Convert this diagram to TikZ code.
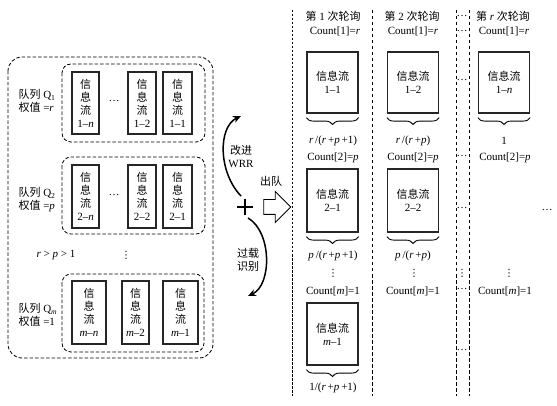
\documentclass[tikz,border=0pt]{standalone}
\usepackage{fontspec}
\setmainfont{Liberation Serif}
\newfontfamily\cjk{Noto Sans CJK SC}
\newfontfamily\sym{DejaVu Sans}
\usepackage{tikz}
\usetikzlibrary{shapes.arrows,positioning,calc,decorations.pathreplacing,arrows.meta}
\newcommand{\zh}[1]{{\cjk #1}}
\newcommand{\vdot}{{\sym\fontsize{10}{10}\selectfont ⋮}}

\begin{document}
\begin{tikzpicture}[
    x=1pt, y=-1pt,
    every node/.style={font=\fontsize{11}{13}\selectfont},
    grp/.style={draw, dash pattern=on 3.5pt off 2pt, rounded corners=9pt, line width=0.8pt},
    colsep/.style={draw, dash pattern=on 3.5pt off 2.5pt, line width=0.8pt},
    vflow/.style={rectangle, draw=black!85, line width=1.2pt, align=center, minimum height=62pt, inner sep=0pt},
    hflow/.style={rectangle, draw=black!85, line width=1.2pt, align=center, minimum width=51pt, minimum height=61pt, inner sep=0pt},
    brc/.style={decorate, decoration={brace, mirror, amplitude=7pt}, line width=0.9pt},
    turn/.style={line width=1.5pt, -{Stealth[length=8pt, width=7pt]}},
]
    \useasboundingbox (0,0) rectangle (557,406);

    % Queues
    \draw[grp, rounded corners=14pt] (8,57) rectangle (213,358);

    % Queue Q1
    \draw[grp] (62,64) rectangle (205,142);
    \node[vflow, minimum width=27pt] (q1n) at (85.5,103) {\zh{信}\\\zh{息}\\\zh{流}\\1--\textit{n}};
    \node[vflow, minimum width=28pt] (q12) at (142,103) {\zh{信}\\\zh{息}\\\zh{流}\\1--2};
    \node[vflow, minimum width=29pt] (q11) at (177.5,103) {\zh{信}\\\zh{息}\\\zh{流}\\1--1};
    \node (q1dots) at (114,101) {\dots};
    \node[align=left, anchor=west] (q1lab) at (15,101) {\zh{队列} Q\textsubscript{1}\\\zh{权值} =\textit{r}};

    % Queue Q2
    \draw[grp] (62,157) rectangle (205,234);
    \node[vflow, minimum width=27pt, minimum height=63pt] (q2n) at (85.5,196.5) {\zh{信}\\\zh{息}\\\zh{流}\\2--\textit{n}};
    \node[vflow, minimum width=28pt, minimum height=63pt] (q22) at (142,196.5) {\zh{信}\\\zh{息}\\\zh{流}\\2--2};
    \node[vflow, minimum width=29pt, minimum height=63pt] (q21) at (177.5,196.5) {\zh{信}\\\zh{息}\\\zh{流}\\2--1};
    \node (q2dots) at (114,195) {\dots};
    \node[align=left, anchor=west] (q2lab) at (15,200) {\zh{队列} Q\textsubscript{2}\\\zh{权值} =\textit{p}};

    \node (order) at (56,255) {\textit{r} > \textit{p} > 1};
    \node (qvdots) at (126,255) {\vdot};

    % Queue Qm
    \draw[grp] (62,274) rectangle (204,352);
    \node[vflow, minimum width=34pt, minimum height=63pt] (qmn) at (89,312.5) {\zh{信}\\\zh{息}\\\zh{流}\\\textit{m}--\textit{n}};
    \node[vflow, minimum width=27pt, minimum height=63pt] (qm2) at (135.5,312.5) {\zh{信}\\\zh{息}\\\zh{流}\\\textit{m}--2};
    \node[vflow, minimum width=35pt, minimum height=63pt] (qm1) at (180.5,312.5) {\zh{信}\\\zh{息}\\\zh{流}\\\textit{m}--1};
    \node[align=left, anchor=west] (qmlab) at (15,315) {\zh{队列} Q\textsubscript{\textit{m}}\\\zh{权值} =1};

    % Scheduler
    \coordinate (plus) at (245,207);
    \draw[line width=1.8pt] ($(plus)+(-8,0)$) -- ($(plus)+(8,0)$);
    \draw[line width=1.8pt] ($(plus)+(0,-8)$) -- ($(plus)+(0,8)$);
    \draw[turn] ($(plus)+(-4,-11)$) .. controls ($(plus)+(-27,-35)$) and ($(plus)+(-27,-80)$) .. ($(plus)+(-4,-91)$);
    \draw[turn] ($(plus)+(3,11)$) .. controls ($(plus)+(27,25)$) and ($(plus)+(27,78)$) .. ($(plus)+(3,89)$);
    \node[align=center] (wrr) at (241,156) {\zh{改进}\\WRR};
    \node[align=center] (ovl) at (248,260) {\zh{过载}\\\zh{识别}};
    \node[single arrow, draw, line width=0.9pt, minimum height=27pt, inner sep=7pt, single arrow head extend=8pt] (outq) at (273.5,207) {};
    \node (outlab) at (271,181) {\zh{出队}};

    % Polling rounds
    \draw[colsep, dash pattern=on 2.5pt off 1.5pt] (292,10) -- (292,396);
    \draw[colsep] (372,10) -- (372,396);
    \draw[colsep] (456,10) -- (456,396);
    \draw[colsep] (469,10) -- (469,396);

    % Round 1
    \node (t1) at (333,16) {\zh{第} 1 \zh{次轮询}};
    \node (c1a) at (335,31) {Count[1]=\textit{r}};
    \node[hflow] (f11) at (332.5,82.5) {\zh{信息流}\\1--1};
    \draw[brc] ($(f11.south west)+(0,-4pt)$) -- ($(f11.south east)+(0,-4pt)$);
    \node (w11) at (333,141) {\textit{r}\,/(\textit{r}\,+\textit{p}\,+1)};
    \node (c1b) at (333,158) {Count[2]=\textit{p}};
    \node[hflow, minimum height=63pt] (f21) at (332.5,200.5) {\zh{信息流}\\2--1};
    \draw[brc] ($(f21.south west)+(0,-4pt)$) -- ($(f21.south east)+(0,-4pt)$);
    \node (w21) at (333,256) {\textit{p}\,/(\textit{r}\,+\textit{p}\,+1)};
    \node (v1) at (333,273) {\vdot};
    \node (c1m) at (333,291) {Count[\textit{m}]=1};
    \node[hflow, minimum height=62pt] (fm1) at (332.5,334) {\zh{信息流}\\\textit{m}--1};
    \draw[brc] ($(fm1.south west)+(0,-4pt)$) -- ($(fm1.south east)+(0,-4pt)$);
    \node (wm1) at (333,388) {1/(\textit{r}\,+\textit{p}\,+1)};

    % Round 2
    \node (t2) at (412,16) {\zh{第} 2 \zh{次轮询}};
    \node (c2a) at (413,31) {Count[1]=\textit{r}};
    \node[hflow] (f12) at (413,82.5) {\zh{信息流}\\1--2};
    \draw[brc] ($(f12.south west)+(0,-4pt)$) -- ($(f12.south east)+(0,-4pt)$);
    \node (w12) at (413,141) {\textit{r}\,/(\textit{r}\,+\textit{p})};
    \node (c2b) at (413,158) {Count[2]=\textit{p}};
    \node[hflow, minimum height=63pt] (f22) at (413,200.5) {\zh{信息流}\\2--2};
    \draw[brc] ($(f22.south west)+(0,-4pt)$) -- ($(f22.south east)+(0,-4pt)$);
    \node (w22) at (413,256) {\textit{p}\,/(\textit{r}\,+\textit{p})};
    \node (v2) at (414,273) {\vdot};
    \node (c2m) at (413,291) {Count[\textit{m}]=1};

    % Rounds in between
    \node (d1) at (462,16) {\dots};
    \node (d2) at (462,31) {\dots};
    \node (d3) at (462,80) {\dots};
    \node (d4) at (462,156) {\dots};
    \node (d5) at (462,208) {\dots};
    \node (d6) at (462,273) {\vdot};
    \node (d7) at (462,289) {\dots};
    \node (d8) at (462,350) {\dots};

    % Round r
    \node (tr) at (503,16) {\zh{第} \textit{r} \zh{次轮询}};
    \node (cra) at (504,31) {Count[1]=\textit{r}};
    \node[hflow] (f1n) at (504,82.5) {\zh{信息流}\\1--\textit{n}};
    \draw[brc] ($(f1n.south west)+(0,-4pt)$) -- ($(f1n.south east)+(0,-4pt)$);
    \node (w1n) at (504,141) {1};
    \node (crb) at (505,158) {Count[2]=\textit{p}};
    \node (vr) at (509,273) {\vdot};
    \node (crm) at (505,291) {Count[\textit{m}]=1};

    \node (rdots) at (547,210) {\dots};

\end{tikzpicture}
\end{document}
